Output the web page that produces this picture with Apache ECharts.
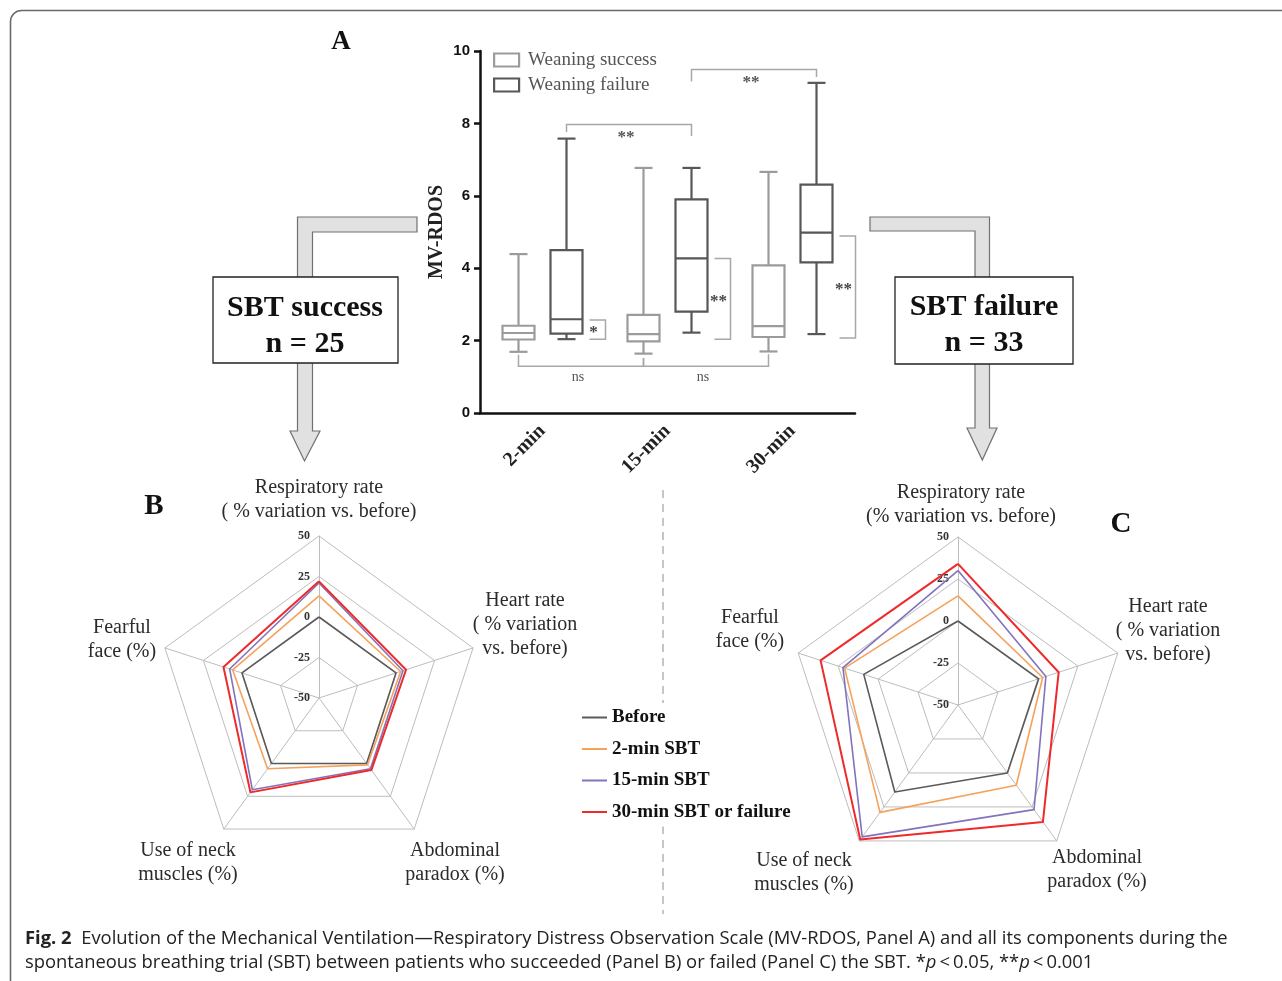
<!DOCTYPE html>
<html><head><meta charset="utf-8">
<script src="https://cdn.jsdelivr.net/npm/echarts@6/dist/echarts.min.js"></script>
<style>html,body{margin:0;padding:0;background:#fff}#c{width:1282px;height:981px}</style>
</head><body><div id="c"></div>
<script>
// ---------- Panel A data (MV-RDOS box plots) ----------
const timePoints = ['2-min', '15-min', '30-min'];
const successMin    = [1.69, 1.64, 1.70];
const successQ1     = [2.03, 1.98, 2.10];
const successMedian = [2.21, 2.18, 2.40];
const successQ3     = [2.41, 2.71, 4.08];
const successMax    = [4.39, 6.77, 6.66];
const failureMin    = [2.04, 2.22, 2.18];
const failureQ1     = [2.19, 2.80, 4.16];
const failureMedian = [2.59, 4.27, 4.98];
const failureQ3     = [4.50, 5.90, 6.31];
const failureMax    = [7.58, 6.77, 9.12];
const groupNames = ['Weaning success', 'Weaning failure'];
const yAxisMin = 0, yAxisMax = 10, yAxisStep = 2;

// significance brackets between time points
const spanBracketCats   = [[0, 1], [1, 2], [0, 1], [1, 2]];
const spanBracketGroup  = [1, 1, 0, 0];           // 0 = success, 1 = failure
const spanBracketLevel  = [7.97, 9.49, 1.29, 1.29];
const spanBracketEnds   = [[7.76, 7.65], [9.16, 9.28], [1.61, 1.52], [1.52, 1.62]];
const spanBracketLabels = ['**', '**', 'ns', 'ns'];
// significance brackets success vs failure at each time point
const sideBracketCats   = [0, 1, 2];
const sideBracketRange  = [[2.57, 2.04], [4.27, 2.04], [4.89, 2.07]];
const sideBracketLabels = ['*', '**', '**'];

// ---------- Panels B & C data (radar) ----------
// order: Respiratory rate, Fearful face, Use of neck muscles, Abdominal paradox, Heart rate
const indicatorsB = ['Respiratory rate\n( % variation vs. before)', 'Fearful\nface (%)', 'Use of neck\nmuscles (%)', 'Abdominal\nparadox (%)', 'Heart rate\n( % variation\nvs. before)'];
const indicatorsC = ['Respiratory rate\n(% variation vs. before)', 'Fearful\nface (%)', 'Use of neck\nmuscles (%)', 'Abdominal\nparadox (%)', 'Heart rate\n( % variation\nvs. before)'];
const radarMin = -50, radarMax = 50;
const stageNames = ['Before', '2-min SBT', '15-min SBT', '30-min SBT or failure'];
const sbtSuccessBefore = [0, 0, 0, 0, 0];
const sbtSuccess2min   = [13, 6, 4, 1, 3];
const sbtSuccess15min  = [21, 8, 20, 4, 4.5];
const sbtSuccess30min  = [22, 12, 22, 5, 6.5];
const sbtFailureBefore = [0, 9, 14, 0, 0.5];
const sbtFailure2min   = [15, 21, 29, 9, 3];
const sbtFailure15min  = [30, 22, 47, 27, 5];
const sbtFailure30min  = [34, 36, 49, 36, 13];

const captionLine1 = 'Evolution of the Mechanical Ventilation\u2014Respiratory Distress Observation Scale (MV-RDOS, Panel A) and all its components during the';
const captionLine2a = 'spontaneous breathing trial (SBT) between patients who succeeded (Panel B) or failed (Panel C) the SBT. *';

// ---------- styles ----------
const SERIF = '"Liberation Serif", "Times New Roman", serif';
const SANS = '"Liberation Sans", Arial, sans-serif';
const CAPFONT = '"Open Sans", "Noto Sans", sans-serif';
const groupColors = ['#9b9b9b', '#575757'];
const stageColors = ['#5a5a5a', '#f4a25c', '#8373bd', '#ee2a2a'];
const stageWidths = [1.6, 1.6, 1.6, 2];
const BOX_OFFSET = 24, BOX_HALF = 16, CAP_HALF = 9;

const chart = echarts.init(document.getElementById('c'), null, {renderer: 'canvas'});

function boxRenderer(side, color) {
  return function (params, api) {
    const cat = api.value(0);
    const cx = api.coord([cat, 0])[0] + side * BOX_OFFSET;
    const y = i => api.coord([cat, api.value(i)])[1];
    const lo = y(1), q1 = y(2), md = y(3), q3 = y(4), hi = y(5);
    const ls = {stroke: color, lineWidth: 2.2, fill: 'none'};
    return {type: 'group', children: [
      {type: 'line', shape: {x1: cx, y1: hi, x2: cx, y2: q3}, style: ls},
      {type: 'line', shape: {x1: cx, y1: q1, x2: cx, y2: lo}, style: ls},
      {type: 'line', shape: {x1: cx - CAP_HALF, y1: hi, x2: cx + CAP_HALF, y2: hi}, style: ls},
      {type: 'line', shape: {x1: cx - CAP_HALF, y1: lo, x2: cx + CAP_HALF, y2: lo}, style: ls},
      {type: 'rect', shape: {x: cx - BOX_HALF, y: q3, width: 2 * BOX_HALF, height: q1 - q3}, style: {stroke: color, lineWidth: 2.2, fill: '#fff'}},
      {type: 'line', shape: {x1: cx - BOX_HALF, y1: md, x2: cx + BOX_HALF, y2: md}, style: ls}
    ]};
  };
}

const bracketLine = {stroke: '#a8a8a8', lineWidth: 1.5, fill: 'none'};
function spanRenderer(params, api) {
  const i = params.dataIndex;
  const g = spanBracketGroup[i] ? 1 : -1;
  const xa = api.coord([spanBracketCats[i][0], 0])[0] + g * BOX_OFFSET;
  const xb = api.coord([spanBracketCats[i][1], 0])[0] + g * BOX_OFFSET;
  const yl = api.coord([0, spanBracketLevel[i]])[1];
  const ya = api.coord([0, spanBracketEnds[i][0]])[1];
  const yb = api.coord([0, spanBracketEnds[i][1]])[1];
  const isNs = spanBracketLabels[i] === 'ns';
  return {type: 'group', children: [
    {type: 'polyline', shape: {points: [[xa, ya], [xa, yl], [xb, yl], [xb, yb]]}, style: bracketLine},
    {type: 'text', style: {text: spanBracketLabels[i], x: (xa + xb) / 2 - 3, y: yl + (isNs ? 11 : 13), align: 'center', verticalAlign: 'middle',
      font: (isNs ? '14px ' : 'bold 17px ') + SERIF, fill: '#555'}}
  ]};
}
function sideRenderer(params, api) {
  const i = params.dataIndex;
  const x0 = api.coord([sideBracketCats[i], 0])[0] + BOX_OFFSET;
  const xv = x0 + 39, xt = x0 + 23;
  const yt = api.coord([0, sideBracketRange[i][0]])[1];
  const yb = api.coord([0, sideBracketRange[i][1]])[1];
  return {type: 'group', children: [
    {type: 'polyline', shape: {points: [[xt, yt], [xv, yt], [xv, yb], [xt, yb]]}, style: bracketLine},
    {type: 'text', style: {text: sideBracketLabels[i], x: xv - 12, y: (yt + yb) / 2 + 3, align: 'center', verticalAlign: 'middle',
      font: 'bold 17px ' + SERIF, fill: '#444'}}
  ]};
}

function mkRadar(center, radius, names) {
  return {
    center: center, radius: radius, startAngle: 90, splitNumber: 4, shape: 'polygon',
    indicator: names.map((n, i) => ({name: n, min: radarMin, max: radarMax, axisLabel: {show: i === 0}})),
    axisName: {show: false},
    axisLabel: {show: false, fontFamily: SERIF, fontWeight: 'bold', fontSize: 12, color: '#333', margin: 9},
    axisTick: {show: false},
    axisLine: {lineStyle: {color: '#bdbdbd', width: 1}},
    splitLine: {lineStyle: {color: '#bdbdbd', width: 1}},
    splitArea: {show: false}
  };
}
function radarSeries(idx, stages) {
  return {type: 'radar', radarIndex: idx, symbol: 'none', silent: true,
    data: stageNames.map((n, i) => ({name: n, value: stages[i],
      lineStyle: {color: stageColors[i], width: stageWidths[i]}, itemStyle: {color: stageColors[i]}}))};
}

// caption font fit
const mctx = document.createElement('canvas').getContext('2d');
mctx.font = 'bold 100px ' + CAPFONT;
const wFig = mctx.measureText('Fig. 2').width;
mctx.font = '100px ' + CAPFONT;
const wRest = mctx.measureText('  ' + captionLine1).width;
const capSize = Math.round(100 * 1201 / (wFig + wRest) * 10) / 10;

// indicator name anchors (block centers)
const nameAnchorsB = [[319, 500], [122, 640], [188, 863], [455, 863], [525, 625]];
const nameAnchorsC = [[961, 505], [750, 630], [804, 873], [1097, 870], [1168, 631]];
function nameTexts(names, anchors) {
  return names.map((n, i) => ({type: 'text', z: 5, style: {text: n, x: anchors[i][0], y: anchors[i][1], align: 'center', verticalAlign: 'middle',
    font: '20px ' + SERIF, lineHeight: 24, fill: '#2b2b2b'}}));
}

const arrowStyle = {fill: '#e1e1e1', stroke: '#707070', lineWidth: 1.2};
const graphics = [
  {type: 'rect', z: -10, shape: {x: 10.5, y: 10.5, width: 1400, height: 1100, r: 11}, style: {fill: 'none', stroke: '#6a6a6a', lineWidth: 1.6}},
  {type: 'polygon', shape: {points: [[417, 217], [297.5, 217], [297.5, 431], [290, 431], [304.5, 461], [320, 431], [312.5, 431], [312.5, 232], [417, 232]]}, style: arrowStyle},
  {type: 'polygon', shape: {points: [[870, 217], [989.5, 217], [989.5, 428], [997, 428], [982.3, 460], [967, 428], [975, 428], [975, 231], [870, 231]]}, style: arrowStyle},
  {type: 'rect', z: 3, shape: {x: 213, y: 277, width: 185, height: 86}, style: {fill: '#fff', stroke: '#222', lineWidth: 1.3}},
  {type: 'rect', z: 3, shape: {x: 895, y: 277, width: 178, height: 87}, style: {fill: '#fff', stroke: '#222', lineWidth: 1.3}},
  {type: 'text', z: 4, style: {text: 'SBT success\nn = 25', x: 305, y: 326, align: 'center', verticalAlign: 'middle', font: 'bold 30px ' + SERIF, lineHeight: 36, fill: '#111'}},
  {type: 'text', z: 4, style: {text: 'SBT failure\nn = 33', x: 984, y: 325, align: 'center', verticalAlign: 'middle', font: 'bold 30px ' + SERIF, lineHeight: 36, fill: '#111'}},
  {type: 'text', style: {text: 'A', x: 341, y: 42, align: 'center', verticalAlign: 'middle', font: 'bold 27px ' + SERIF, fill: '#111'}},
  {type: 'text', style: {text: 'B', x: 154, y: 507, align: 'center', verticalAlign: 'middle', font: 'bold 29px ' + SERIF, fill: '#111'}},
  {type: 'text', style: {text: 'C', x: 1121, y: 525, align: 'center', verticalAlign: 'middle', font: 'bold 29px ' + SERIF, fill: '#111'}},
  {type: 'line', z: -5, shape: {x1: 663, y1: 490, x2: 663, y2: 914}, style: {stroke: '#a0a0a0', lineWidth: 1.2, lineDash: [8, 6]}},
  {type: 'text', style: {
    text: '{b|Fig. 2}  ' + captionLine1 + '\n' + captionLine2a + '{i|p}\u2009<\u20090.05, **{i|p}\u2009<\u20090.001',
    x: 25, y: 927, align: 'left', verticalAlign: 'top', fontSize: capSize, fontFamily: CAPFONT, lineHeight: 24, fill: '#222',
    rich: {b: {fontWeight: 'bold', fontSize: capSize, fontFamily: CAPFONT, fill: '#222'}, i: {fontStyle: 'italic', fontSize: capSize, fontFamily: CAPFONT, fill: '#222'}}
  }}
].concat(nameTexts(indicatorsB, nameAnchorsB), nameTexts(indicatorsC, nameAnchorsC));

const option = {
  backgroundColor: '#fff',
  animation: false,
  grid: {left: 480, right: 427, top: 51, bottom: 568, outerBoundsMode: 'none'},
  xAxis: {type: 'category', data: timePoints, boundaryGap: true,
    axisLine: {lineStyle: {color: '#111', width: 2.5}},
    axisTick: {alignWithLabel: true, length: 7, lineStyle: {color: '#111', width: 2.5}},
    axisLabel: {rotate: 45, margin: 15, fontFamily: SERIF, fontWeight: 'bold', fontSize: 20, color: '#222'},
    splitLine: {show: false}},
  yAxis: {type: 'value', min: yAxisMin, max: yAxisMax, interval: yAxisStep,
    name: 'MV-RDOS', nameLocation: 'middle', nameRotate: 90, nameGap: 33,
    nameTextStyle: {fontFamily: SERIF, fontWeight: 'bold', fontSize: 20, color: '#222'},
    axisLine: {show: true, lineStyle: {color: '#111', width: 2.5}},
    axisTick: {show: true, length: 6, lineStyle: {color: '#111', width: 2.5}},
    axisLabel: {margin: 10, fontFamily: SANS, fontWeight: 'bold', fontSize: 15, color: '#111'},
    splitLine: {show: false}},
  legend: [
    {data: stageNames, orient: 'vertical', left: 577, top: 703, icon: 'rect', itemWidth: 25, itemHeight: 2, itemGap: 12.5, selectedMode: false,
      backgroundColor: '#fff', padding: [5, 6, 5, 5],
      textStyle: {fontFamily: SERIF, fontWeight: 'bold', fontSize: 19, color: '#111', lineHeight: 19}},
    {data: groupNames.map((n, i) => ({name: n, itemStyle: {color: '#fff', borderColor: groupColors[i], borderWidth: 2.2}})),
      orient: 'vertical', left: 488, top: 45, icon: 'rect', itemWidth: 25, itemHeight: 13, itemGap: 5, selectedMode: false,
      textStyle: {fontFamily: SERIF, fontSize: 19, color: '#555', lineHeight: 20, padding: [0, 0, 0, 4]}}
  ],
  radar: [mkRadar([319, 698], 162, indicatorsB), mkRadar([958, 705], 168, indicatorsC)],
  series: [
    {type: 'custom', name: groupNames[0], renderItem: boxRenderer(-1, groupColors[0]), encode: {x: 0, y: [1, 2, 3, 4, 5]},
      itemStyle: {color: groupColors[0]}, z: 3,
      data: timePoints.map((t, i) => [i, successMin[i], successQ1[i], successMedian[i], successQ3[i], successMax[i]])},
    {type: 'custom', name: groupNames[1], renderItem: boxRenderer(1, groupColors[1]), encode: {x: 0, y: [1, 2, 3, 4, 5]},
      itemStyle: {color: groupColors[1]}, z: 3,
      data: timePoints.map((t, i) => [i, failureMin[i], failureQ1[i], failureMedian[i], failureQ3[i], failureMax[i]])},
    {type: 'custom', name: 'spanBrackets', renderItem: spanRenderer, encode: {x: 0, y: 1}, z: 2, silent: true,
      data: spanBracketLevel.map((v, i) => [spanBracketCats[i][0], v])},
    {type: 'custom', name: 'sideBrackets', renderItem: sideRenderer, encode: {x: 0, y: 1}, z: 2, silent: true,
      data: sideBracketCats.map((c, i) => [c, sideBracketRange[i][0]])},
    radarSeries(0, [sbtSuccessBefore, sbtSuccess2min, sbtSuccess15min, sbtSuccess30min]),
    radarSeries(1, [sbtFailureBefore, sbtFailure2min, sbtFailure15min, sbtFailure30min])
  ],
  graphic: {elements: graphics}
};
chart.setOption(option);
</script></body></html>
